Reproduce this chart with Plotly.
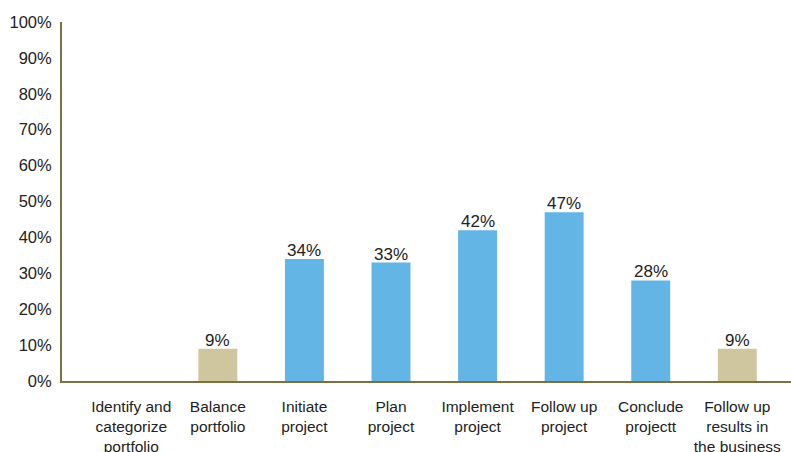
import plotly.graph_objects as go

# Portfolio / project process steps and the share reported for each
categories = [
    "Identify and<br>categorize<br>portfolio",
    "Balance<br>portfolio",
    "Initiate<br>project",
    "Plan<br>project",
    "Implement<br>project",
    "Follow up<br>project",
    "Conclude<br>projectt",
    "Follow up<br>results in<br>the business",
]
values = [0, 9, 34, 33, 42, 47, 28, 9]
show_label = [False, True, True, True, True, True, True, True]
group = ["portfolio", "portfolio", "project", "project", "project", "project", "project", "business"]

color_map = {"portfolio": "#CFC69F", "project": "#63B5E5", "business": "#CFC69F"}
bar_colors = [color_map[g] for g in group]

FONT = "Liberation Sans, Arial, Helvetica, sans-serif"
AXIS_COLOR = "#7A7142"
TEXT_COLOR = "#222222"

x_pos = list(range(len(categories)))

fig = go.Figure(
    go.Bar(
        x=x_pos,
        y=values,
        marker=dict(color=bar_colors, line=dict(width=0)),
        width=0.45,
        hoverinfo="x+y",
    )
)

# value labels sitting right on top of each bar
for xi, v, s in zip(x_pos, values, show_label):
    if s:
        fig.add_annotation(
            x=xi, y=v, text=f"{v}%", showarrow=False,
            xanchor="center", yanchor="bottom", yshift=-3,
            font=dict(family=FONT, size=17, color=TEXT_COLOR),
        )

fig.update_layout(
    width=791,
    height=452,
    margin=dict(l=62, r=0, t=22, b=71, autoexpand=False),
    paper_bgcolor="white",
    plot_bgcolor="white",
    showlegend=False,
    font=dict(family=FONT, size=16.5, color=TEXT_COLOR),
)

fig.update_xaxes(
    tickmode="array",
    tickvals=x_pos,
    ticktext=categories,
    range=[-0.8, 7.62],
    automargin=False,
    showline=True,
    linecolor=AXIS_COLOR,
    linewidth=2,
    showgrid=False,
    zeroline=False,
    ticks="outside",
    ticklen=10,
    tickcolor="rgba(0,0,0,0)",
    tickfont=dict(family=FONT, size=15.5, color=TEXT_COLOR),
    tickangle=0,
)

fig.update_yaxes(
    range=[0, 100],
    dtick=10,
    ticksuffix="%",
    automargin=False,
    showline=True,
    linecolor=AXIS_COLOR,
    linewidth=2,
    showgrid=False,
    zeroline=False,
    ticks="outside",
    ticklen=5,
    tickcolor="rgba(0,0,0,0)",
    tickfont=dict(family=FONT, size=16.5, color=TEXT_COLOR),
)

fig.write_html("out.html")
